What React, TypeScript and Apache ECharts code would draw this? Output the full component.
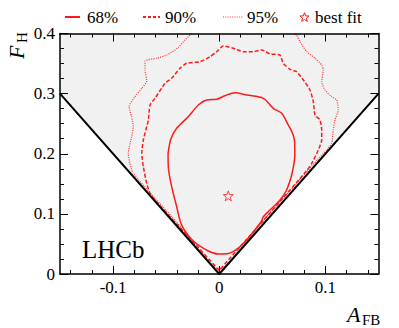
import React, { useEffect, useRef } from 'react';
import * as echarts from 'echarts';

const xMajorTicks = [-0.1, 0, 0.1];
const xMinorTicks = [-0.14, -0.12, -0.08, -0.06, -0.04, -0.02, 0.02, 0.04, 0.06, 0.08, 0.12, 0.14];
const xRange = [-0.15, 0.15];
const yRange = [0, 0.4];

// physical boundary F_H = 2|A_FB|
const boundary = [[-0.15, 0.3], [0, 0], [0.15, 0.3]];

const contour68 = [
  [-0.0482, 0.2008], [-0.0455, 0.2250], [-0.0401, 0.2423], [-0.0292, 0.2616], [-0.0197, 0.2811],
  [-0.0118, 0.2894], [-0.0024, 0.2906], [0.0054, 0.2966], [0.0148, 0.3015], [0.0259, 0.2977],
  [0.0415, 0.2922], [0.0509, 0.2756], [0.0588, 0.2673], [0.0650, 0.2478], [0.0690, 0.2340],
  [0.0710, 0.2200], [0.0712, 0.1979], [0.0700, 0.1800], [0.0675, 0.1600], [0.0630, 0.1380],
  [0.0572, 0.1231], [0.0478, 0.1064], [0.0415, 0.0953], [0.0393, 0.0865], [0.0274, 0.0599],
  [0.0179, 0.0432], [0.0085, 0.0341], [-0.0009, 0.0333], [-0.0103, 0.0383], [-0.0244, 0.0549],
  [-0.0354, 0.0815], [-0.0401, 0.1119], [-0.0448, 0.1452], [-0.0480, 0.1785], [-0.0482, 0.2008]
];

const contour90 = [
  [0, 0.006], [-0.03, 0.064], [-0.0643, 0.1310], [-0.0683, 0.1508], [-0.0715, 0.1785],
  [-0.0730, 0.2008], [-0.0715, 0.2229], [-0.0668, 0.2561], [-0.0652, 0.2811], [-0.0605, 0.2922],
  [-0.0511, 0.3172], [-0.0448, 0.3255], [-0.0370, 0.3421], [-0.0307, 0.3504], [-0.0181, 0.3531],
  [-0.0087, 0.3614], [-0.0024, 0.3697], [0.0038, 0.3792], [0.0132, 0.3754], [0.0227, 0.3697],
  [0.0321, 0.3697], [0.0400, 0.3726], [0.0478, 0.3659], [0.0572, 0.3642], [0.0603, 0.3504],
  [0.0666, 0.3405], [0.0729, 0.3365], [0.0792, 0.3227], [0.0855, 0.3060], [0.0886, 0.2866],
  [0.0902, 0.2644], [0.0949, 0.2561], [0.0965, 0.2395], [0.0965, 0.2229], [0.0933, 0.2062],
  [0.0871, 0.1841], [0.0829, 0.1730], [0.05, 0.106], [0.02, 0.046], [0, 0.006]
];

const contour95 = [
  [-0.0261, 0.4000], [-0.0323, 0.3892], [-0.0386, 0.3767], [-0.0495, 0.3642], [-0.0589, 0.3588],
  [-0.0699, 0.3543], [-0.0699, 0.3393], [-0.0683, 0.3210], [-0.0730, 0.3089], [-0.0794, 0.2949],
  [-0.0850, 0.2783], [-0.0825, 0.2616], [-0.0810, 0.2450], [-0.0825, 0.2284], [-0.0857, 0.2008],
  [-0.0841, 0.1841], [-0.0810, 0.1675], [-0.04, 0.086], [0, 0.008], [0.04, 0.086],
  [0.0925, 0.1900], [0.1012, 0.2062], [0.1059, 0.2174], [0.1074, 0.2395], [0.1090, 0.2561],
  [0.1121, 0.2728], [0.1106, 0.2894], [0.1059, 0.2949], [0.0996, 0.3060], [0.0965, 0.3198],
  [0.0980, 0.3393], [0.0965, 0.3476], [0.0902, 0.3588], [0.0824, 0.3698], [0.0761, 0.3864],
  [0.0728, 0.3975], [0.0713, 0.4000]
];

const bestFit = [[0.0085, 0.130]];

const legendLabels = ['68%', '90%', '95%', 'best fit'];

const RED = '#ff1a1a';
const SERIF = 'Liberation Serif';
const STAR_PATH = 'path://M0,-10L2.35,-3.24L9.51,-3.09L3.8,1.24L5.88,8.09L0,4L-5.88,8.09L-3.8,1.24L-9.51,-3.09L-2.35,-3.24Z';

const fmt = (v: number) => (v === 0 ? '0' : v.toFixed(1));

function starPoints(cx: number, cy: number, R: number, r: number) {
  const pts: number[][] = [];
  for (let i = 0; i < 10; i++) {
    const a = -Math.PI / 2 + (i * Math.PI) / 5;
    const rad = i % 2 === 0 ? R : r;
    pts.push([cx + rad * Math.cos(a), cy + rad * Math.sin(a)]);
  }
  return pts;
}

function xAxisDef(position: 'bottom' | 'top', ticks: number[], len: number, labels: boolean, line: boolean) {
  return {
    type: 'value',
    min: xRange[0],
    max: xRange[1],
    position,
    z: 10,
    axisLine: { show: line, onZero: false, lineStyle: { color: '#000', width: 1.5 } },
    axisTick: { show: true, inside: true, length: len, customValues: ticks, lineStyle: { color: '#000', width: 1 } },
    axisLabel: labels
      ? { show: true, customValues: ticks, formatter: fmt, color: '#000', fontSize: 17, fontFamily: SERIF, margin: 5 }
      : { show: false },
    splitLine: { show: false },
  };
}

function yAxisDef(position: 'left' | 'right', labels: boolean) {
  return {
    type: 'value',
    min: yRange[0],
    max: yRange[1],
    interval: 0.1,
    position,
    z: 10,
    axisLine: { show: true, onZero: false, lineStyle: { color: '#000', width: 1.5 } },
    axisTick: { show: true, inside: true, length: 8, lineStyle: { color: '#000', width: 1 } },
    minorTick: { show: true, splitNumber: 4, length: 4, lineStyle: { color: '#000', width: 1 } },
    axisLabel: labels
      ? { show: true, formatter: fmt, color: '#000', fontSize: 17, fontFamily: SERIF, margin: 5 }
      : { show: false },
    splitLine: { show: false },
    minorSplitLine: { show: false },
  };
}

export default function App() {
  const ref = useRef<HTMLDivElement>(null);
  useEffect(() => {
    if (!ref.current) return;
    const chart = echarts.init(ref.current, null, { renderer: 'svg' });
    const textStyle = (text: string, x: number, y: number, extra: any = {}) => ({
      type: 'text',
      x,
      y,
      z: 20,
      style: { text, fill: '#000', fontSize: 17, fontFamily: SERIF, verticalAlign: 'middle', align: 'left', ...extra },
    });
    const option: any = {
      animation: false,
      textStyle: { fontFamily: SERIF },
      grid: { left: 60, right: 20.5, top: 33.5, bottom: 54, containLabel: false, outerBoundsMode: 'none' },
      xAxis: [
        xAxisDef('bottom', xMajorTicks, 8, true, true),
        xAxisDef('bottom', xMinorTicks, 4, false, false),
        xAxisDef('top', xMajorTicks, 8, false, true),
        xAxisDef('top', xMinorTicks, 4, false, false),
      ],
      yAxis: [yAxisDef('left', true), yAxisDef('right', false)],
      series: [
        {
          type: 'line',
          data: boundary,
          showSymbol: false,
          z: 1,
          lineStyle: { width: 0, color: '#f1f1f1' },
          areaStyle: { origin: 'end', color: '#f1f1f1', opacity: 1 },
          silent: true,
        },
        {
          name: legendLabels[0],
          type: 'line',
          data: contour68,
          showSymbol: false,
          smooth: 0.3,
          z: 3,
          lineStyle: { color: RED, width: 1.5, type: 'solid' },
        },
        {
          name: legendLabels[1],
          type: 'line',
          data: contour90,
          showSymbol: false,
          smooth: 0.2,
          z: 3,
          lineStyle: { color: RED, width: 1.5, type: [4, 2] },
        },
        {
          name: legendLabels[2],
          type: 'line',
          data: contour95,
          showSymbol: false,
          smooth: 0.2,
          z: 3,
          lineStyle: { color: RED, width: 1.2, type: [1, 1.3], opacity: 0.9 },
        },
        {
          type: 'line',
          data: boundary,
          showSymbol: false,
          z: 5,
          lineStyle: { color: '#000', width: 2 },
          silent: true,
        },
        {
          name: legendLabels[3],
          type: 'scatter',
          data: bestFit,
          symbol: STAR_PATH,
          symbolSize: 10,
          z: 6,
          itemStyle: { color: 'rgba(0,0,0,0)', borderColor: RED, borderWidth: 1 },
        },
      ],
      graphic: [
        { type: 'line', z: 20, shape: { x1: 65, y1: 17, x2: 80, y2: 17 }, style: { stroke: RED, lineWidth: 2 } },
        textStyle(legendLabels[0], 87, 17),
        { type: 'line', z: 20, shape: { x1: 143, y1: 17, x2: 160, y2: 17 }, style: { stroke: RED, lineWidth: 2, lineDash: [3, 2] } },
        textStyle(legendLabels[1], 165, 17),
        { type: 'line', z: 20, shape: { x1: 223, y1: 17, x2: 243, y2: 17 }, style: { stroke: RED, lineWidth: 1.2, lineDash: [1, 1.3], opacity: 0.9 } },
        textStyle(legendLabels[2], 247, 17),
        { type: 'polygon', z: 20, shape: { points: starPoints(304.5, 17.5, 4.8, 2) }, style: { fill: 'none', stroke: RED, lineWidth: 1 } },
        textStyle(legendLabels[3], 315, 17),
        textStyle('LHCb', 82, 249, { fontSize: 25 }),
        textStyle('A', 347, 314.5, { fontSize: 22, fontStyle: 'italic' }),
        textStyle('FB', 362, 319.5, { fontSize: 15 }),
        {
          type: 'text', z: 20, x: 16.5, y: 59, rotation: Math.PI / 2,
          style: { text: 'F', fill: '#000', fontSize: 22, fontStyle: 'italic', fontFamily: SERIF, verticalAlign: 'middle', align: 'left' },
        },
        {
          type: 'text', z: 20, x: 21.5, y: 43, rotation: Math.PI / 2,
          style: { text: 'H', fill: '#000', fontSize: 15, fontFamily: SERIF, verticalAlign: 'middle', align: 'left' },
        },
      ],
    };
    chart.setOption(option);
    return () => chart.dispose();
  }, []);
  return (
    <div
      ref={ref}
      style={{ position: 'fixed', left: 0, top: 0, width: 399, height: 328, background: '#fff' }}
    />
  );
}
